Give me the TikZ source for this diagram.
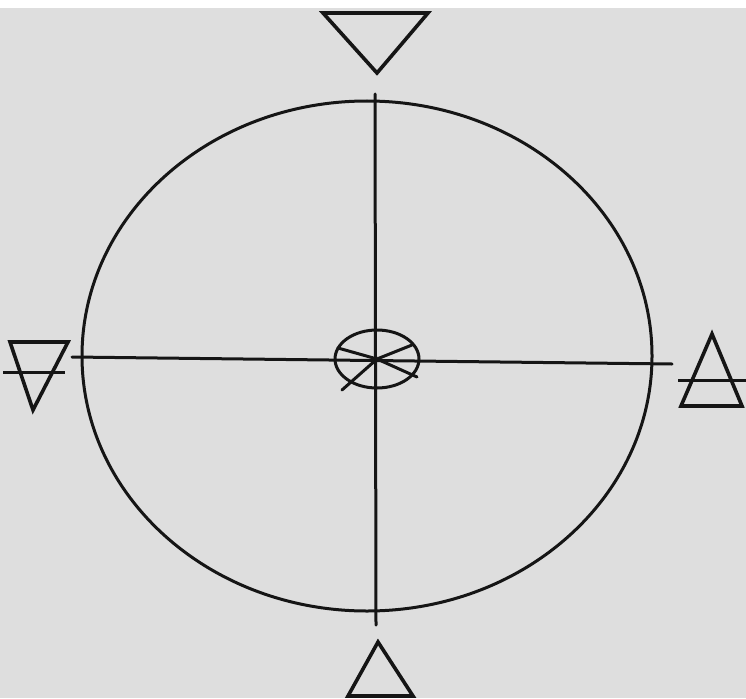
\documentclass[tikz,border=0pt]{standalone}
\definecolor{paper}{HTML}{DEDEDE}
\definecolor{ink}{HTML}{151515}
\begin{document}
\begin{tikzpicture}[x=1pt,y=-1pt,
  stroke/.style={draw=ink,line width=3pt,line cap=round,line join=round},
  tri/.style={draw=ink,line width=3.6pt,line join=miter}]
\fill[paper] (0,0) rectangle (746,698);
\fill[white] (0,0) rectangle (746,8);
\useasboundingbox (0,0) rectangle (746,698);
% big ellipse
\draw[stroke] (367,356) ellipse [x radius=285, y radius=255];
% axes
\coordinate (c) at (377,359);
\draw[stroke] (375,94) -- (376,625);
\draw[stroke] (72,357) -- (672,364);
% centre wheel
\draw[stroke] (c) ellipse [x radius=42, y radius=29];
\draw[stroke] (338,348) -- (c) -- (417,377);
\draw[stroke] (342,390) -- (c) -- (412,345);
% top triangle (down)
\draw[tri] (323,13) -- (428,13) -- (377,73) -- cycle;
% bottom triangle (up)
\draw[tri] (378,642) -- (413,696) -- (348,696) -- cycle;
% left triangle (down) with bar
\draw[tri] (10,342) -- (68,342) -- (33,410) -- cycle;
\draw[stroke,line cap=butt] (3,372) -- (65,372);
% right triangle (up) with bar
\draw[tri] (712,334) -- (742,406) -- (681,406) -- cycle;
\draw[stroke,line cap=butt] (678,380) -- (746,380);
\end{tikzpicture}
\end{document}
